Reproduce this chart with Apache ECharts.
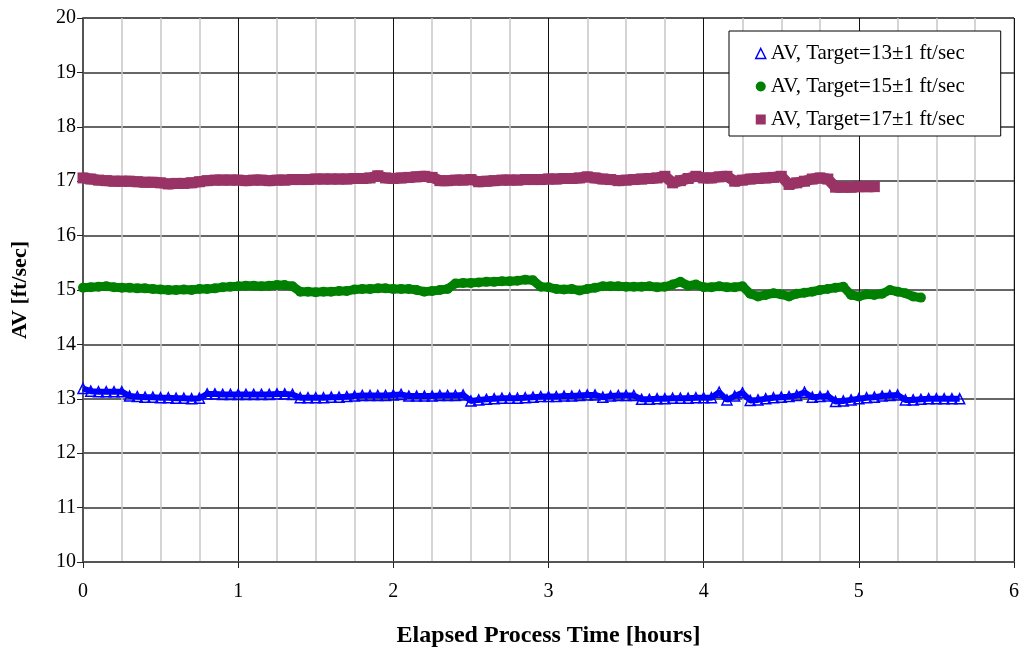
<!DOCTYPE html>
<html>
<head>
<meta charset="utf-8">
<script src="https://cdn.jsdelivr.net/npm/echarts@6/dist/echarts.min.js"></script>
<style>
  html, body { margin: 0; padding: 0; background: #fff; }
  #chart { width: 1024px; height: 653px; }
</style>
</head>
<body>
<div id="chart"></div>
<script>
// elapsed time [hours], sampled every 0.05 h
let hours = [
  0.00, 0.05, 0.10, 0.15, 0.20, 0.25, 0.30, 0.35, 0.40, 0.45,
  0.50, 0.55, 0.60, 0.65, 0.70, 0.75, 0.80, 0.85, 0.90, 0.95,
  1.00, 1.05, 1.10, 1.15, 1.20, 1.25, 1.30, 1.35, 1.40, 1.45,
  1.50, 1.55, 1.60, 1.65, 1.70, 1.75, 1.80, 1.85, 1.90, 1.95,
  2.00, 2.05, 2.10, 2.15, 2.20, 2.25, 2.30, 2.35, 2.40, 2.45,
  2.50, 2.55, 2.60, 2.65, 2.70, 2.75, 2.80, 2.85, 2.90, 2.95,
  3.00, 3.05, 3.10, 3.15, 3.20, 3.25, 3.30, 3.35, 3.40, 3.45,
  3.50, 3.55, 3.60, 3.65, 3.70, 3.75, 3.80, 3.85, 3.90, 3.95,
  4.00, 4.05, 4.10, 4.15, 4.20, 4.25, 4.30, 4.35, 4.40, 4.45,
  4.50, 4.55, 4.60, 4.65, 4.70, 4.75, 4.80, 4.85, 4.90, 4.95,
  5.00, 5.05, 5.10, 5.15, 5.20, 5.25, 5.30, 5.35, 5.40, 5.45,
  5.50, 5.55, 5.60, 5.65
];

// AV, target 13 ft/sec
let av13 = [
  13.19, 13.14, 13.13, 13.13, 13.13, 13.13, 13.05, 13.04, 13.03, 13.03,
  13.02, 13.02, 13.01, 13.01, 13.00, 13.01, 13.09, 13.09, 13.08, 13.08,
  13.08, 13.08, 13.08, 13.08, 13.08, 13.09, 13.09, 13.08, 13.02, 13.02,
  13.02, 13.02, 13.03, 13.03, 13.04, 13.05, 13.06, 13.06, 13.06, 13.06,
  13.07, 13.08, 13.05, 13.05, 13.05, 13.05, 13.06, 13.06, 13.06, 13.07,
  12.96, 12.98, 12.99, 13.00, 13.01, 13.01, 13.01, 13.02, 13.03, 13.04,
  13.04, 13.04, 13.05, 13.05, 13.06, 13.07, 13.07, 13.03, 13.05, 13.06,
  13.06, 13.06, 12.99, 12.99, 13.00, 13.00, 13.01, 13.01, 13.01, 13.02,
  13.02, 13.02, 13.12, 12.98, 13.05, 13.11, 12.97, 12.98, 13.00, 13.02,
  13.03, 13.04, 13.06, 13.12, 13.03, 13.04, 13.05, 12.95, 12.96, 12.98,
  13.00, 13.02, 13.03, 13.05, 13.06, 13.07, 12.98, 12.98, 12.99, 13.00,
  13.00, 13.00, 13.00, 13.00
];

// AV, target 15 ft/sec
let av15 = [
  15.04, 15.05, 15.06, 15.07, 15.05, 15.04, 15.04, 15.03, 15.03, 15.02,
  15.01, 15.00, 15.00, 15.01, 15.00, 15.02, 15.02, 15.03, 15.05, 15.06,
  15.07, 15.08, 15.08, 15.07, 15.08, 15.09, 15.09, 15.07, 14.97, 14.97,
  14.96, 14.97, 14.97, 14.98, 14.98, 15.01, 15.02, 15.02, 15.03, 15.03,
  15.02, 15.02, 15.02, 15.00, 14.97, 14.98, 15.00, 15.02, 15.12, 15.13,
  15.13, 15.14, 15.15, 15.15, 15.16, 15.16, 15.17, 15.19, 15.18, 15.06,
  15.05, 15.02, 15.01, 15.02, 14.99, 15.02, 15.04, 15.07, 15.07, 15.07,
  15.06, 15.06, 15.06, 15.07, 15.05, 15.06, 15.10, 15.15, 15.08, 15.10,
  15.05, 15.05, 15.07, 15.05, 15.05, 15.07, 14.93, 14.88, 14.91, 14.94,
  14.92, 14.88, 14.93, 14.95, 14.97, 15.00, 15.02, 15.04, 15.06, 14.91,
  14.88, 14.92, 14.91, 14.93, 15.00, 14.97, 14.94, 14.88, 14.86
];

// AV, target 17 ft/sec
let av17 = [
  17.06, 17.04, 17.02, 17.01, 17.00, 17.00, 17.00, 16.99, 16.98, 16.98,
  16.97, 16.95, 16.96, 16.96, 16.97, 16.99, 17.01, 17.02, 17.02, 17.02,
  17.02, 17.01, 17.02, 17.02, 17.01, 17.02, 17.02, 17.03, 17.03, 17.03,
  17.04, 17.04, 17.04, 17.04, 17.04, 17.05, 17.05, 17.06, 17.10, 17.06,
  17.05, 17.06, 17.07, 17.08, 17.09, 17.07, 17.01, 17.01, 17.02, 17.02,
  17.03, 16.99, 17.00, 17.01, 17.02, 17.02, 17.02, 17.03, 17.03, 17.03,
  17.04, 17.04, 17.05, 17.05, 17.06, 17.08, 17.06, 17.04, 17.03, 17.01,
  17.02, 17.03, 17.04, 17.05, 17.06, 17.09, 16.97, 17.01, 17.05, 17.09,
  17.06, 17.06, 17.08, 17.09, 17.00, 17.02, 17.04, 17.05, 17.06, 17.07,
  17.09, 16.94, 16.97, 17.00, 17.04, 17.06, 17.04, 16.89, 16.89, 16.89,
  16.90, 16.90, 16.90
];

let seriesNames = ['AV, Target=13\u00b11 ft/sec', 'AV, Target=15\u00b11 ft/sec', 'AV, Target=17\u00b11 ft/sec'];
let xTicks = [0, 1, 2, 3, 4, 5, 6];
let yTicks = [10, 11, 12, 13, 14, 15, 16, 17, 18, 19, 20];

const FONT = "'Liberation Serif', 'Times New Roman', serif";
const pairs = (vals) => vals.map((v, i) => [hours[i], v]);

let chart = echarts.init(document.getElementById('chart'));
let option = {
  animation: false,
  textStyle: { fontFamily: FONT },
  grid: {
    left: 83,
    right: 10,
    top: 18,
    bottom: 90,
    show: true,
    borderColor: '#8c8c8c',
    borderWidth: 1
  },
  legend: {
    orient: 'vertical',
    left: 729,
    top: 31,
    padding: [12, 36, 6, 26],
    itemGap: 12,
    itemWidth: 10,
    itemHeight: 10,
    backgroundColor: '#fff',
    borderColor: '#000',
    borderWidth: 1,
    borderRadius: 0,
    textStyle: { fontFamily: FONT, fontSize: 21, color: '#000' },
    data: [
      { name: seriesNames[0], icon: 'triangle', itemStyle: { color: '#fff', borderColor: '#0000ff', borderWidth: 1.5 } },
      { name: seriesNames[1], icon: 'circle', itemStyle: { color: '#008000' } },
      { name: seriesNames[2], icon: 'rect', itemStyle: { color: '#993366' } }
    ]
  },
  xAxis: {
    type: 'value',
    min: xTicks[0],
    max: xTicks[xTicks.length - 1],
    interval: 1,
    name: 'Elapsed Process Time [hours]',
    nameLocation: 'middle',
    nameGap: 62,
    nameTextStyle: { fontFamily: FONT, fontSize: 24, fontWeight: 'bold', color: '#000' },
    axisLine: { lineStyle: { color: '#555', width: 2 } },
    axisTick: { show: true, inside: false, length: 6, lineStyle: { color: '#222' } },
    axisLabel: { fontFamily: FONT, fontSize: 20, color: '#000', margin: 20 },
    splitLine: { show: true, lineStyle: { color: '#111', width: 1 } },
    minorTick: { show: false, splitNumber: 4 },
    minorSplitLine: { show: true, lineStyle: { color: '#c8c8c8', width: 1.5 } }
  },
  yAxis: {
    type: 'value',
    min: yTicks[0],
    max: yTicks[yTicks.length - 1],
    interval: 1,
    name: 'AV [ft/sec]',
    nameLocation: 'middle',
    nameGap: 52,
    nameTextStyle: { fontFamily: FONT, fontSize: 22, fontWeight: 'bold', color: '#000' },
    axisLine: { show: true, lineStyle: { color: '#555', width: 2 } },
    axisTick: { show: true, inside: false, length: 6, lineStyle: { color: '#222' } },
    axisLabel: { fontFamily: FONT, fontSize: 20, color: '#000', margin: 7 },
    splitLine: { show: true, lineStyle: { color: '#333', width: 1.5 } }
  },
  series: [
    {
      name: seriesNames[0],
      type: 'line',
      data: pairs(av13),
      symbol: 'triangle',
      symbolSize: 10,
      showAllSymbol: true,
      lineStyle: { color: '#0000ff', width: 6 },
      itemStyle: { color: 'rgba(255,255,255,0)', borderColor: '#0000ff', borderWidth: 1.5 },
      z: 3
    },
    {
      name: seriesNames[1],
      type: 'line',
      data: pairs(av15),
      symbol: 'circle',
      symbolSize: 10,
      showAllSymbol: true,
      lineStyle: { color: '#008000', width: 9 },
      itemStyle: { color: '#008000' },
      z: 3
    },
    {
      name: seriesNames[2],
      type: 'line',
      data: pairs(av17),
      symbol: 'rect',
      symbolSize: 11,
      showAllSymbol: true,
      lineStyle: { color: '#993366', width: 11 },
      itemStyle: { color: '#993366' },
      z: 3
    }
  ]
};
chart.setOption(option);
</script>
</body>
</html>
